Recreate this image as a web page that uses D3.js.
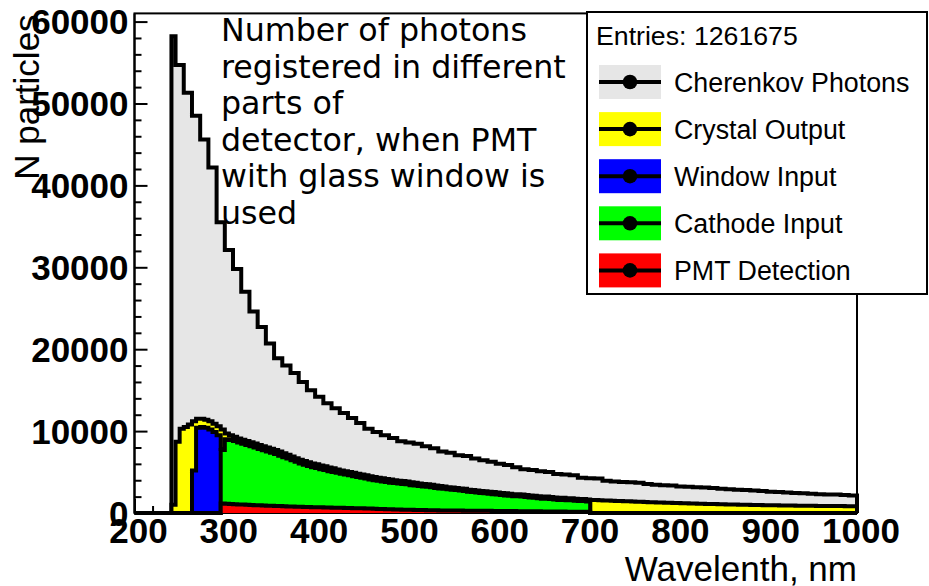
<!DOCTYPE html>
<html>
<head>
<meta charset="utf-8">
<script src="https://cdn.jsdelivr.net/npm/d3@7"></script>
<style>
  html, body { margin: 0; padding: 0; background: #fff; }
  svg { display: block; }
</style>
</head>
<body>
<svg id="chart" width="929" height="586"></svg>
<script>
// Histogram binning: 220 bins over 0..1000 nm, the plot shows 200..1000 nm
const binWidth = 1000 / 220;
const firstShownBin = 44;   // 200 nm
const lastShownBin = 219;   // last bin ends at 1000 nm

const xTicks = [200, 300, 400, 500, 600, 700, 800, 900, 1000];
const yTicks = [0, 10000, 20000, 30000, 40000, 50000, 60000];

const entries = 1261675;

// Counts per bin, each series starting at its first non-empty bin index
const cherenkovStart = 53;
const cherenkovCounts = [
  58200,
  54700, 54700, 51300, 51300, 48500, 48500, 45600, 45600, 42200, 42200,
  35500, 35500, 32100, 32100, 29800, 29800, 27000, 27000, 24600, 24600,
  22700, 22700, 20700, 20700, 18900, 18900, 18000, 18000, 17100, 17100,
  16000, 16000, 15000, 15000, 14200, 14200, 13400, 13400, 12800, 12800,
  12200, 12200, 11600, 11600, 11000, 11000, 10300, 10300, 9900, 9900,
  9500, 9500, 9150, 9150, 8750, 8750, 8600, 8600, 8450, 8450,
  8150, 8150, 7900, 7900, 7500, 7500, 7350, 7350, 7050, 7050,
  6950, 6950, 6650, 6650, 6450, 6450, 6250, 6250, 6000, 6000,
  5850, 5850, 5600, 5600, 5350, 5350, 5250, 5250, 5100, 5100,
  5000, 5000, 4750, 4750, 4700, 4700, 4600, 4600, 4300, 4300,
  4250, 4250, 4200, 4200, 3950, 3950, 3850, 3850, 3800, 3800,
  3750, 3750, 3700, 3700, 3550, 3550, 3450, 3450, 3400, 3400,
  3350, 3350, 3250, 3250, 3200, 3200, 3150, 3150, 3100, 3100,
  3050, 3050, 2950, 2950, 2900, 2900, 2850, 2850, 2800, 2800,
  2750, 2750, 2700, 2700, 2600, 2600, 2550, 2550, 2500, 2500,
  2450, 2450, 2400, 2400, 2350, 2350, 2300, 2300, 2250, 2250,
  2250, 2250, 2200, 2200, 2150, 2150
];

const crystalStart = 53;
const crystalCounts = [
  1000, 8700, 10300, 10500, 10800, 11200, 11500, 11500, 11400, 11200,
  10900, 10600, 10200, 9700, 9500, 9300, 9100, 8950, 8800, 8650,
  8500, 8300, 8150, 8000, 7850, 7700, 7500, 7300, 7100, 6900,
  6700, 6500, 6350, 6200, 6050, 5950, 5800, 5700, 5550, 5450,
  5300, 5200, 5100, 5000, 4900, 4800, 4700, 4600, 4500, 4400,
  4300, 4250, 4150, 4100, 4000, 3950, 3900, 3850, 3750, 3700,
  3600, 3550, 3500, 3450, 3350, 3300, 3250, 3150, 3100, 3050,
  3000, 2950, 2850, 2800, 2750, 2700, 2650, 2600, 2550, 2500,
  2450, 2400, 2350, 2300, 2300, 2250, 2200, 2150, 2100, 2050,
  2000, 2000, 1950, 1900, 1850, 1850, 1800, 1800, 1750, 1700,
  1700, 1650, 1600, 1580, 1560, 1540, 1520, 1500, 1480, 1460,
  1440, 1420, 1400, 1380, 1360, 1340, 1320, 1300, 1290, 1270,
  1250, 1240, 1220, 1210, 1190, 1180, 1160, 1150, 1140, 1130,
  1110, 1100, 1090, 1080, 1070, 1050, 1040, 1030, 1020, 1010,
  1000, 990, 980, 970, 960, 950, 945, 940, 930, 920,
  915, 910, 900, 895, 890, 880, 875, 870, 865, 860,
  855, 850, 845, 840, 835, 830, 825
];

const windowStart = 58;
const windowCounts = [
  5200, 10400, 10500, 10400, 10200, 9900, 9500, 7800, 9000, 9000,
  8900, 8700, 8550, 8400, 8250, 8100, 7900, 7750, 7600, 7450,
  7300, 7100, 6900, 6750, 6550, 6350, 6150, 6000, 5850, 5700,
  5600, 5450, 5350, 5200, 5100, 5000, 4900, 4800, 4700, 4600,
  4500, 4400, 4300, 4200, 4100, 4050, 3950, 3900, 3800, 3750,
  3700, 3650, 3600, 3500, 3450, 3400, 3350, 3300, 3250, 3150,
  3100, 3050, 3000, 2950, 2900, 2850, 2800, 2700, 2650, 2600,
  2550, 2500, 2450, 2400, 2350, 2300, 2250, 2200, 2150, 2150,
  2100, 2050, 2000, 1950, 1900, 1850, 1850, 1800, 1750, 1700,
  1700, 1650, 1650, 1600, 1550, 1550, 1500
];

const cathodeStart = 65;
const cathodeCounts = [
  7700, 8900, 8900, 8800, 8600, 8450, 8300, 8150, 8000, 7800,
  7650, 7500, 7350, 7200, 7000, 6800, 6650, 6450, 6250, 6050,
  5900, 5750, 5600, 5500, 5350, 5250, 5100, 5000, 4900, 4800,
  4700, 4600, 4500, 4400, 4300, 4200, 4100, 4000, 3950, 3850,
  3800, 3700, 3650, 3600, 3550, 3500, 3400, 3350, 3300, 3250,
  3200, 3150, 3050, 3000, 2950, 2900, 2850, 2800, 2750, 2700,
  2600, 2550, 2500, 2450, 2400, 2350, 2300, 2250, 2200, 2150,
  2100, 2050, 2050, 2000, 1950, 1900, 1850, 1800, 1750, 1750,
  1700, 1650, 1600, 1600, 1550, 1550, 1500, 1450, 1450, 1400
];

const pmtStart = 65;
const pmtCounts = [
  1150, 1120, 1100, 1080, 1050, 1030, 1000, 980, 960, 940,
  920, 900, 880, 860, 840, 820, 800, 780, 770, 750,
  740, 720, 710, 700, 690, 680, 660, 650, 640, 630,
  620, 600, 590, 580, 570, 560, 540, 520, 500, 480,
  470, 450, 440, 420, 410, 400, 390, 380, 370, 360,
  350, 340, 330, 320, 315, 310, 305, 300, 295, 290,
  285, 280, 275, 270, 265, 260, 255, 250, 245, 240,
  235, 230, 225, 220, 215, 210, 205, 200, 195, 190,
  185, 180, 175, 170, 165, 160, 155, 150, 145, 140
];

const seriesNames = ["Cherenkov Photons", "Crystal Output", "Window Input", "Cathode Input", "PMT Detection"];
const seriesColors = ["#e6e6e6", "#ffff00", "#0000ff", "#00ff00", "#ff0000"];

const titleLines = [
  "Number of photons",
  "registered in different",
  "parts of",
  "detector, when PMT",
  "with glass window is",
  "used"
];

// ---- layout ----
const frame = { left: 134.5, right: 857, top: 13.4, bottom: 513 };
const svg = d3.select("#chart");

const x = d3.scaleLinear().domain([200, 1000]).range([frame.left, frame.right]);
const y = d3.scaleLinear().domain([0, 61000]).range([frame.bottom, frame.top]);

const histos = [
  { start: cherenkovStart, counts: cherenkovCounts },
  { start: crystalStart, counts: crystalCounts },
  { start: windowStart, counts: windowCounts },
  { start: cathodeStart, counts: cathodeCounts },
  { start: pmtStart, counts: pmtCounts }
].map((h, i) => ({ ...h, name: seriesNames[i], color: seriesColors[i] }));

// ---- frame & axes (drawn first, histograms are painted over them) ----
const axisG = svg.append("g");

// x axis: major ticks every 100 nm, minor every 20 nm, pointing into the frame
const xAxis = d3.axisTop(x).tickValues(xTicks).tickSize(14).tickFormat("");
axisG.append("g").attr("transform", `translate(0,${frame.bottom})`).call(xAxis);
const xMinor = d3.range(200, 1001, 20).filter(v => v % 100 !== 0);
axisG.append("g").attr("transform", `translate(0,${frame.bottom})`)
  .call(d3.axisTop(x).tickValues(xMinor).tickSize(7).tickFormat(""));

// y axis: major every 10000, minor every 2000, pointing into the frame
axisG.append("g").attr("transform", `translate(${frame.left},0)`)
  .call(d3.axisRight(y).tickValues(yTicks).tickSize(13).tickFormat(""));
const yMinor = d3.range(0, 61000, 2000).filter(v => v % 10000 !== 0);
axisG.append("g").attr("transform", `translate(${frame.left},0)`)
  .call(d3.axisRight(y).tickValues(yMinor).tickSize(7).tickFormat(""));

axisG.selectAll(".domain").remove();
axisG.selectAll(".tick line").attr("stroke", "#000").attr("stroke-width", 2);

// frame box
svg.append("rect")
  .attr("x", frame.left).attr("y", frame.top)
  .attr("width", frame.right - frame.left).attr("height", frame.bottom - frame.top)
  .attr("fill", "none").attr("stroke", "#000").attr("stroke-width", 2);

// ---- histograms ----
svg.append("clipPath").attr("id", "plotClip")
  .append("rect")
  .attr("x", frame.left).attr("y", frame.top)
  .attr("width", frame.right - frame.left + 3).attr("height", frame.bottom - frame.top + 3);

function binCount(h, k) {
  const i = k - h.start;
  return (i >= 0 && i < h.counts.length) ? h.counts[i] : 0;
}

function stairPoints(h) {
  const pts = [[x(200), y(0)]];
  for (let k = firstShownBin; k <= lastShownBin; k++) {
    const lo = Math.max(200, k * binWidth);
    const hi = Math.min(1000, (k + 1) * binWidth);
    const v = binCount(h, k);
    pts.push([x(lo), y(v)], [x(hi), y(v)]);
  }
  pts.push([x(1000), y(0)]);
  return pts;
}

const line = d3.line();
const histG = svg.append("g").attr("clip-path", "url(#plotClip)");

histos.forEach(h => {
  const pts = stairPoints(h);
  histG.append("path")
    .attr("d", line(pts) + "Z")
    .attr("fill", h.color)
    .attr("stroke", "none");
  histG.append("path")
    .attr("d", line(pts))
    .attr("fill", "none")
    .attr("stroke", "#000")
    .attr("stroke-width", 4)
    .attr("stroke-linejoin", "miter");
});

// left axis line on top
svg.append("line")
  .attr("x1", frame.left).attr("x2", frame.left)
  .attr("y1", frame.top).attr("y2", frame.bottom)
  .attr("stroke", "#000").attr("stroke-width", 2);

// ---- tick labels ----
const labelFont = "'Liberation Sans', Arial, Helvetica, sans-serif";

svg.append("g").selectAll("text")
  .data(yTicks).join("text")
  .attr("x", frame.left - 6)
  .attr("y", d => y(d) + 12.5)
  .attr("text-anchor", "end")
  .attr("font-family", labelFont)
  .attr("font-weight", "bold")
  .attr("font-size", 35)
  .text(d => d);

svg.append("g").selectAll("text")
  .data(xTicks).join("text")
  .attr("x", d => x(d) + 4)
  .attr("y", 543)
  .attr("text-anchor", "middle")
  .attr("font-family", labelFont)
  .attr("font-weight", "bold")
  .attr("font-size", 35)
  .text(d => d);

// axis titles
svg.append("text")
  .attr("transform", `translate(39,${frame.top + 1}) rotate(-90)`)
  .attr("text-anchor", "end")
  .attr("font-family", labelFont)
  .attr("font-size", 35)
  .text("N particles");

svg.append("text")
  .attr("x", frame.right)
  .attr("y", 581)
  .attr("text-anchor", "end")
  .attr("font-family", labelFont)
  .attr("font-size", 35)
  .text("Wavelenth, nm");

// ---- annotation ----
svg.append("g").selectAll("text")
  .data(titleLines).join("text")
  .attr("x", 221)
  .attr("y", (d, i) => 41 + i * 36.6)
  .attr("font-family", "'DejaVu Sans', sans-serif")
  .attr("font-size", 31.7)
  .attr("fill", "#000")
  .text(d => d);

// ---- legend ----
const legend = svg.append("g");
legend.append("rect")
  .attr("x", 587).attr("y", 12).attr("width", 340).attr("height", 282)
  .attr("fill", "#fff").attr("stroke", "#000").attr("stroke-width", 2);

legend.append("text")
  .attr("x", 596).attr("y", 45)
  .attr("font-family", labelFont)
  .attr("font-size", 26.7)
  .text(`Entries: ${entries}`);

const rowY = i => 82 + i * 47.1;
const rows = legend.selectAll("g.row").data(histos).join("g").attr("class", "row");
rows.append("rect")
  .attr("x", 599).attr("y", (d, i) => rowY(i) - 17)
  .attr("width", 62).attr("height", 34)
  .attr("fill", d => d.color);
rows.append("line")
  .attr("x1", 599).attr("x2", 661)
  .attr("y1", (d, i) => rowY(i)).attr("y2", (d, i) => rowY(i))
  .attr("stroke", "#000").attr("stroke-width", 4);
rows.append("circle")
  .attr("cx", 630).attr("cy", (d, i) => rowY(i)).attr("r", 7.3)
  .attr("fill", "#000");
rows.append("text")
  .attr("x", 674).attr("y", (d, i) => rowY(i) + 9.5)
  .attr("font-family", labelFont)
  .attr("font-size", 26.8)
  .text(d => d.name);
</script>
</body>
</html>
